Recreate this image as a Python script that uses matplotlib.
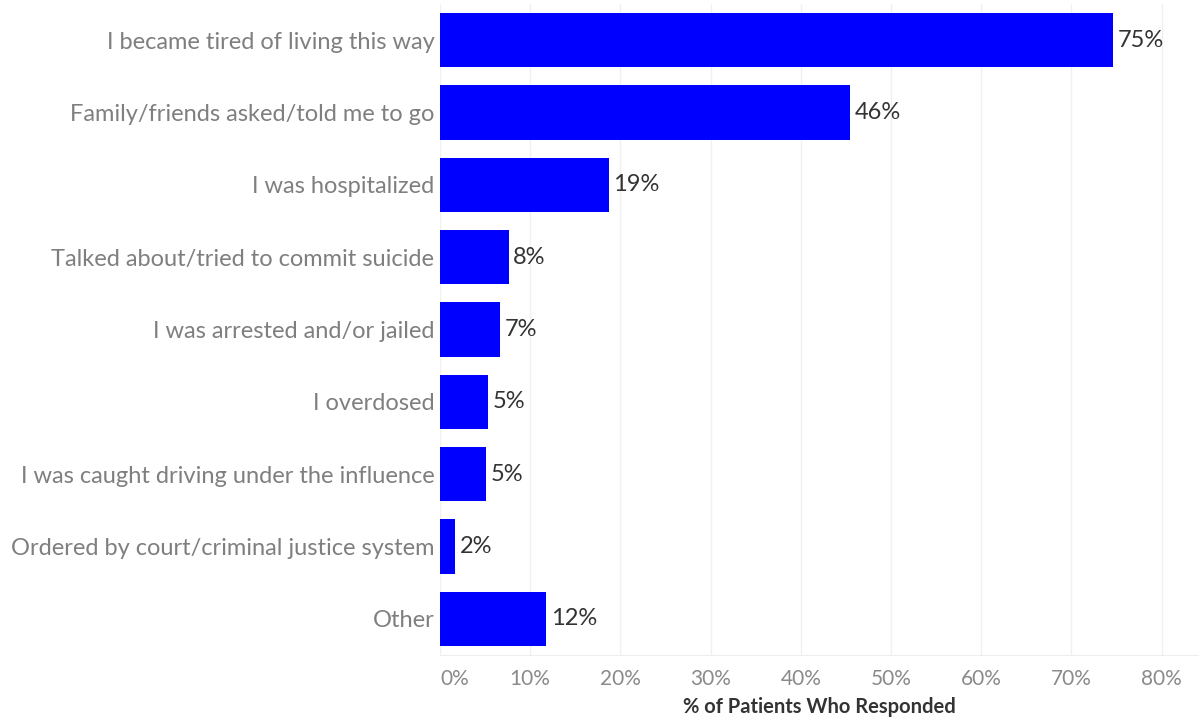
import matplotlib.pyplot as plt

reasons = [
    "I became tired of living this way",
    "Family/friends asked/told me to go",
    "I was hospitalized",
    "Talked about/tried to commit suicide",
    "I was arrested and/or jailed",
    "I overdosed",
    "I was caught driving under the influence",
    "Ordered by court/criminal justice system",
    "Other",
]
pct = [74.6, 45.5, 18.7, 7.6, 6.65, 5.3, 5.1, 1.7, 11.8]
ticks = [0, 10, 20, 30, 40, 50, 60, 70, 80]

plt.rcParams["font.family"] = ["Lato", "DejaVu Sans"]

fig = plt.figure(figsize=(11.99, 7.19), dpi=100)
ax = fig.add_axes([440 / 1199, 1 - 655 / 719, 1 - 440 / 1199, (655 - 4) / 719])

y = list(range(len(reasons)))
ax.barh(y, pct, height=0.75, color="#0000ff", zorder=3)
for yi, v in zip(y, pct):
    ax.text(v + 0.5, yi, f"{v:.0f}%", va="center", ha="left",
            fontsize=17, color="#333333", zorder=4)

ax.set_ylim(len(reasons) - 0.5, -0.5)
ax.set_xlim(0, 759 / 9.02)
ax.set_yticks(y)
ax.set_yticklabels(reasons, fontsize=17, color="#7f7f7f")
ax.set_xticks(ticks)
ax.set_xticklabels([f"{t}%" for t in ticks], fontsize=15, color="#8a8a8a")
ax.get_xticklabels()[0].set_horizontalalignment("left")
ax.tick_params(axis="both", length=0)
ax.tick_params(axis="x", pad=10)
ax.tick_params(axis="y", pad=4)

ax.grid(axis="x", color="#f0f0f0", linewidth=1, zorder=0)
for s in ["top", "right", "left"]:
    ax.spines[s].set_visible(False)
ax.spines["bottom"].set_color("#eeeeee")

ax.set_xlabel("% of Patients Who Responded", fontsize=14.5, fontweight="bold",
              color="#333333", labelpad=6)

fig.savefig("out.png", dpi=100)
